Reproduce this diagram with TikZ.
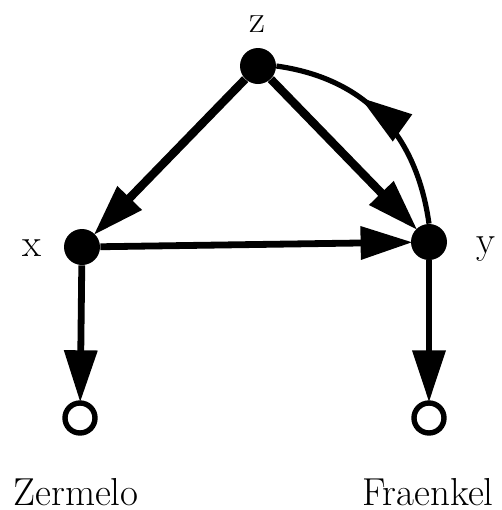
\documentclass[tikz,border=0pt]{standalone}
\usetikzlibrary{arrows.meta,decorations.markings}
\begin{document}
\begin{tikzpicture}[x=0.5pt,y=-0.5pt,
  dot/.style={circle,fill=black,inner sep=0pt,minimum size=18pt},
  leaf/.style={circle,draw=black,line width=2.7pt,inner sep=0pt,minimum size=15pt,fill=white},
  lbl/.style={font=\fontsize{19.5}{23}\selectfont,anchor=base,inner sep=0pt},
  tip/.style={-{Triangle[length=26pt,width=16pt]}},
  thick edge/.style={tip,line width=4.2pt,shorten >=-1pt},
  mid edge/.style={tip,line width=3.4pt,shorten >=-1pt},
  arcedge/.style={line width=2.6pt,postaction={decorate},
    decoration={markings,mark=at position 0.62 with {\arrow{Triangle[length=26pt,width=16pt]}}}}
]
\useasboundingbox (0,0) rectangle (502,510);
\node[dot] (z) at (258,66) {};
\node[dot] (x) at (82,247) {};
\node[dot] (y) at (429,242) {};
\node[leaf] (zc) at (80,418) {};
\node[leaf] (fc) at (429,418) {};
\node[lbl] (zl) at (257,32) {z};
\node[lbl] (xl) at (32,256) {x};
\node[lbl] (yl) at (486,253) {y};
\node[lbl] (zer) at (76,505) {Zermelo};
\node[lbl] (fra) at (428,505) {Fraenkel};
\draw[thick edge] (z) -- (x);
\draw[thick edge] (z) -- (y);
\draw[mid edge] (x) -- (y);
\draw[mid edge] (x) -- (zc);
\draw[mid edge] (y) -- (fc);
\draw[arcedge] (y.north) to[out=98,in=-8,looseness=1.05] (z.east);
\end{tikzpicture}
\end{document}
